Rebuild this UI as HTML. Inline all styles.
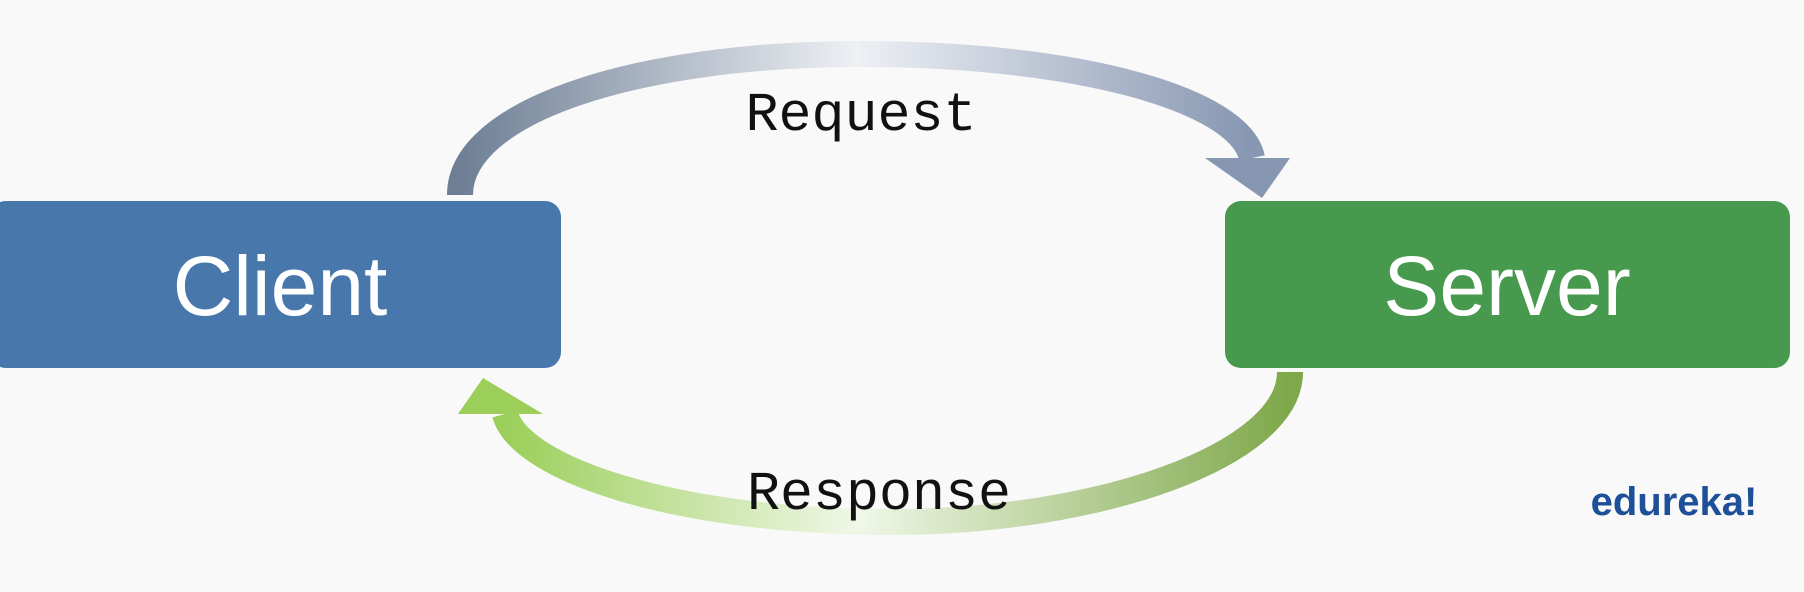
<!DOCTYPE html>
<html><head><style>
body{margin:0;background:#f9f9f9;}
svg{display:block}
</style></head><body>
<svg width="1804" height="592" viewBox="0 0 1804 592" xmlns="http://www.w3.org/2000/svg">
<defs>
<linearGradient id="gt" x1="0" y1="0" x2="1" y2="0">
<stop offset="0" stop-color="#6e7f95"/><stop offset="0.5" stop-color="#eef0f4"/><stop offset="1" stop-color="#8797b2"/>
</linearGradient>
<linearGradient id="gb" x1="0" y1="0" x2="1" y2="0">
<stop offset="0" stop-color="#9bcf5a"/><stop offset="0.45" stop-color="#f0f7e8"/><stop offset="1" stop-color="#7ea84a"/>
</linearGradient>
</defs>
<rect width="1804" height="592" fill="#f9f9f9"/>
<path d="M 460 195 C 460 110, 640 54, 860 54 C 1080 54, 1240 100, 1252 158" fill="none" stroke="url(#gt)" stroke-width="26"/>
<polygon points="1205,158 1290,158 1262,198" fill="#8797b2"/>
<path d="M 1290 372 C 1290 455, 1100 522, 890 522 C 680 522, 520 470, 505 414" fill="none" stroke="url(#gb)" stroke-width="26"/>
<polygon points="458,414 543,414 483,378" fill="#9bcf5a"/>
<rect x="-10" y="201" width="571" height="167" rx="16" fill="#4877ac"/>
<rect x="1225" y="201" width="565" height="167" rx="16" fill="#46994d"/>
<text x="280" y="315" font-family="Liberation Sans, sans-serif" font-size="84" fill="#fff" text-anchor="middle">Client</text>
<text x="1507" y="315" font-family="Liberation Sans, sans-serif" font-size="84" fill="#fff" text-anchor="middle">Server</text>
<text x="861" y="130" font-family="Liberation Mono, monospace" font-size="55" fill="#111" text-anchor="middle">Request</text>
<text x="879" y="509" font-family="Liberation Mono, monospace" font-size="55" fill="#111" text-anchor="middle">Response</text>
<text x="1674" y="515" font-family="Liberation Sans, sans-serif" font-weight="bold" font-size="40" fill="#1e4f99" text-anchor="middle">edureka!</text>
</svg>
</body></html>
